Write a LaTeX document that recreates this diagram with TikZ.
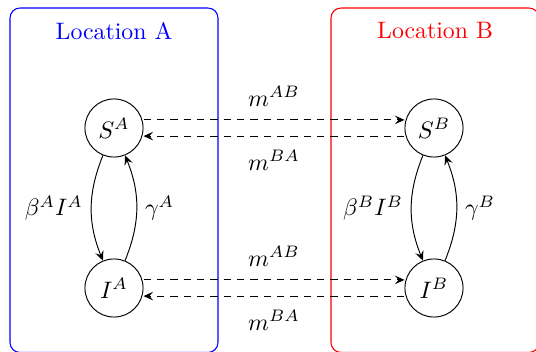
\documentclass[tikz,border=0pt]{standalone}
\usetikzlibrary{arrows.meta}
\begin{document}
\begin{tikzpicture}[x=0.42pt,y=0.42pt,
  state/.style={draw,circle,minimum size=24.4pt,inner sep=0pt},
  region/.style={rounded corners=4.2pt,line width=0.45pt},
  flow/.style={-{Stealth[length=4pt,width=3.6pt,inset=1.5pt]}},
  migr/.style={flow,dashed,dash pattern=on 3.2pt off 2.4pt}]
\useasboundingbox (0,0) rectangle (536,351);
\draw[region,blue] (10,-1.5) rectangle (218,343);
\draw[region,red] (331,-1.5) rectangle (539,343);
\node[blue] (la) at (114,320) {Location A};
\node[red] (lb) at (435,320) {Location B};
\node[state] (SA) at (114,223) {$S^A$};
\node[state] (IA) at (114,63) {$I^A$};
\node[state] (SB) at (434,223) {$S^B$};
\node[state] (IB) at (434,63) {$I^B$};
\draw[flow] (SA) to[bend right=22] node[left,pos=0.5] {$\beta^A I^A$} (IA);
\draw[flow] (IA) to[bend right=22] node[right,pos=0.5] {$\gamma^A$} (SA);
\draw[flow] (SB) to[bend right=22] node[left,pos=0.5] {$\beta^B I^B$} (IB);
\draw[flow] (IB) to[bend right=22] node[right,pos=0.5] {$\gamma^B$} (SB);
\draw[migr] ([yshift=3.4pt]SA.east) -- node[above,yshift=2.3pt] {$m^{AB}$} ([yshift=3.4pt]SB.west);
\draw[migr] ([yshift=-3.4pt]SB.west) -- node[below,yshift=-2.3pt] {$m^{BA}$} ([yshift=-3.4pt]SA.east);
\draw[migr] ([yshift=3.4pt]IA.east) -- node[above,yshift=2.3pt] {$m^{AB}$} ([yshift=3.4pt]IB.west);
\draw[migr] ([yshift=-3.4pt]IB.west) -- node[below,yshift=-2.3pt] {$m^{BA}$} ([yshift=-3.4pt]IA.east);
\end{tikzpicture}
\end{document}
